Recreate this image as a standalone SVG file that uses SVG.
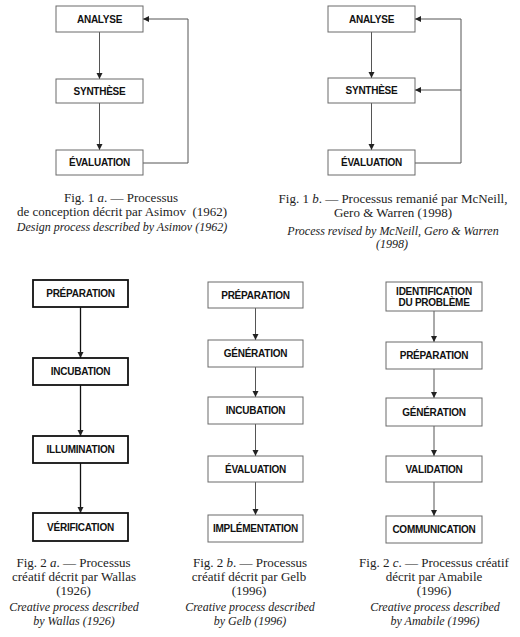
<svg xmlns="http://www.w3.org/2000/svg" width="520" height="637" viewBox="0 0 520 637">
<style>
.box{fill:#fff;stroke:#6a6a6a;stroke-width:1}
.boxk{fill:#fff;stroke:#111;stroke-width:1.8}
.lbl{font-family:"Liberation Sans",Arial,sans-serif;font-weight:bold;font-size:10px;letter-spacing:-0.25px;fill:#111;text-anchor:middle}
.cap{font-family:"Liberation Serif","Times New Roman",serif;font-size:13px;fill:#222;text-anchor:middle}
.it{font-family:"Liberation Serif","Times New Roman",serif;font-style:italic;font-size:12px;fill:#222;text-anchor:middle}
.ln{fill:none;stroke:#555;stroke-width:1}
.lnk{fill:none;stroke:#111;stroke-width:1.3}
</style>
<defs>
<marker id="ah" markerUnits="userSpaceOnUse" markerWidth="7" markerHeight="7" refX="6" refY="3" orient="auto">
<path d="M0,0 L6,3 L0,6 z" fill="#222"/>
</marker>
</defs>
<rect width="520" height="637" fill="#fff"/>

<g id="connectors">
<!-- Fig 1a -->
<path class="ln" d="M99.5,32 V79" marker-end="url(#ah)"/>
<path class="ln" d="M99.5,103 V150" marker-end="url(#ah)"/>
<path class="ln" d="M143,163 H188 V19 H143" marker-end="url(#ah)"/>
<!-- Fig 1b -->
<path class="ln" d="M371.5,32 V78" marker-end="url(#ah)"/>
<path class="ln" d="M371.5,103 V150" marker-end="url(#ah)"/>
<path class="ln" d="M415,163 H461 V19 H415" marker-end="url(#ah)"/>
<path class="ln" d="M461,90 H415" marker-end="url(#ah)"/>
<!-- Fig 2a -->
<path class="lnk" d="M80.5,307 V358" marker-end="url(#ah)"/>
<path class="lnk" d="M80.5,385 V436" marker-end="url(#ah)"/>
<path class="lnk" d="M80.5,463 V513" marker-end="url(#ah)"/>
<!-- Fig 2b -->
<path class="ln" d="M255.5,308 V340" marker-end="url(#ah)"/>
<path class="ln" d="M255.5,367 V397" marker-end="url(#ah)"/>
<path class="ln" d="M255.5,424 V456" marker-end="url(#ah)"/>
<path class="ln" d="M255.5,482 V515" marker-end="url(#ah)"/>
<!-- Fig 2c -->
<path class="ln" d="M434,311 V342" marker-end="url(#ah)"/>
<path class="ln" d="M434,369 V398" marker-end="url(#ah)"/>
<path class="ln" d="M434,426 V456" marker-end="url(#ah)"/>
<path class="ln" d="M434,482 V516" marker-end="url(#ah)"/>
</g>

<!-- Fig 1a nodes -->
<g id="f1a-analyse"><rect class="box" x="56" y="6" width="87" height="26"/><text class="lbl" x="99.5" y="22.5">ANALYSE</text></g>
<g id="f1a-synthese"><rect class="box" x="56" y="79" width="87" height="24"/><text class="lbl" x="99.5" y="94.5">SYNTHÈSE</text></g>
<g id="f1a-evaluation"><rect class="box" x="56" y="150" width="87" height="25"/><text class="lbl" x="99.5" y="166">ÉVALUATION</text></g>

<!-- Fig 1b nodes -->
<g id="f1b-analyse"><rect class="box" x="328" y="6" width="87" height="26"/><text class="lbl" x="371.5" y="22.5">ANALYSE</text></g>
<g id="f1b-synthese"><rect class="box" x="328" y="78" width="87" height="25"/><text class="lbl" x="371.5" y="94">SYNTHÈSE</text></g>
<g id="f1b-evaluation"><rect class="box" x="328" y="150" width="87" height="25"/><text class="lbl" x="371.5" y="166">ÉVALUATION</text></g>

<!-- Fig 2a nodes -->
<g id="f2a-preparation"><rect class="boxk" x="33" y="280" width="95" height="27"/><text class="lbl" x="80.5" y="297">PRÉPARATION</text></g>
<g id="f2a-incubation"><rect class="boxk" x="33" y="358" width="95" height="27"/><text class="lbl" x="80.5" y="375">INCUBATION</text></g>
<g id="f2a-illumination"><rect class="boxk" x="33" y="436" width="95" height="27"/><text class="lbl" x="80.5" y="453">ILLUMINATION</text></g>
<g id="f2a-verification"><rect class="boxk" x="33" y="513" width="95" height="28"/><text class="lbl" x="80.5" y="531">VÉRIFICATION</text></g>

<!-- Fig 2b nodes -->
<g id="f2b-preparation"><rect class="box" x="208" y="282" width="95" height="26"/><text class="lbl" x="255.5" y="298.5">PRÉPARATION</text></g>
<g id="f2b-generation"><rect class="box" x="208" y="340" width="95" height="27"/><text class="lbl" x="255.5" y="357">GÉNÉRATION</text></g>
<g id="f2b-incubation"><rect class="box" x="208" y="397" width="95" height="27"/><text class="lbl" x="255.5" y="414">INCUBATION</text></g>
<g id="f2b-evaluation"><rect class="box" x="208" y="456" width="95" height="26"/><text class="lbl" x="255.5" y="472.5">ÉVALUATION</text></g>
<g id="f2b-implementation"><rect class="box" x="208" y="515" width="95" height="27"/><text class="lbl" x="255.5" y="532" letter-spacing="-0.6">IMPLÉMENTATION</text></g>

<!-- Fig 2c nodes -->
<g id="f2c-identification"><rect class="box" x="386" y="282" width="96" height="29"/><text class="lbl" x="434" y="294.5">IDENTIFICATION</text><text class="lbl" x="434" y="306">DU PROBLÈME</text></g>
<g id="f2c-preparation"><rect class="box" x="386" y="342" width="96" height="27"/><text class="lbl" x="434" y="359">PRÉPARATION</text></g>
<g id="f2c-generation"><rect class="box" x="386" y="398" width="96" height="28"/><text class="lbl" x="434" y="415.5">GÉNÉRATION</text></g>
<g id="f2c-validation"><rect class="box" x="386" y="456" width="96" height="26"/><text class="lbl" x="434" y="472.5">VALIDATION</text></g>
<g id="f2c-communication"><rect class="box" x="386" y="516" width="96" height="27"/><text class="lbl" x="434" y="533">COMMUNICATION</text></g>

<!-- Captions -->
<g id="cap-1a">
<text class="cap" x="121" y="202">Fig. 1 <tspan font-style="italic">a</tspan>. — Processus</text>
<text class="cap" x="122" y="216" xml:space="preserve">de conception décrit par Asimov  (1962)</text>
<text class="it" x="122" y="231">Design process described by Asimov (1962)</text>
</g>
<g id="cap-1b">
<text class="cap" x="393" y="203">Fig. 1 <tspan font-style="italic">b</tspan>. — Processus remanié par McNeill,</text>
<text class="cap" x="393" y="217">Gero &amp; Warren (1998)</text>
<text class="it" x="393" y="235">Process revised by McNeill, Gero &amp; Warren</text>
<text class="it" x="392" y="248">(1998)</text>
</g>
<g id="cap-2a">
<text class="cap" x="73.5" y="567">Fig. 2 <tspan font-style="italic">a</tspan>. — Processus</text>
<text class="cap" x="74" y="581">créatif décrit par Wallas</text>
<text class="cap" x="73.5" y="595">(1926)</text>
<text class="it" x="74" y="611">Creative process described</text>
<text class="it" x="74" y="625">by Wallas (1926)</text>
</g>
<g id="cap-2b">
<text class="cap" x="250" y="567">Fig. 2 <tspan font-style="italic">b</tspan>. — Processus</text>
<text class="cap" x="249" y="581">créatif décrit par Gelb</text>
<text class="cap" x="249" y="595">(1996)</text>
<text class="it" x="250" y="611">Creative process described</text>
<text class="it" x="250" y="625">by Gelb (1996)</text>
</g>
<g id="cap-2c">
<text class="cap" x="434" y="567">Fig. 2 <tspan font-style="italic">c</tspan>. — Processus créatif</text>
<text class="cap" x="434" y="581">décrit par Amabile</text>
<text class="cap" x="434" y="595">(1996)</text>
<text class="it" x="435" y="611">Creative process described</text>
<text class="it" x="435" y="625">by Amabile (1996)</text>
</g>
</svg>
